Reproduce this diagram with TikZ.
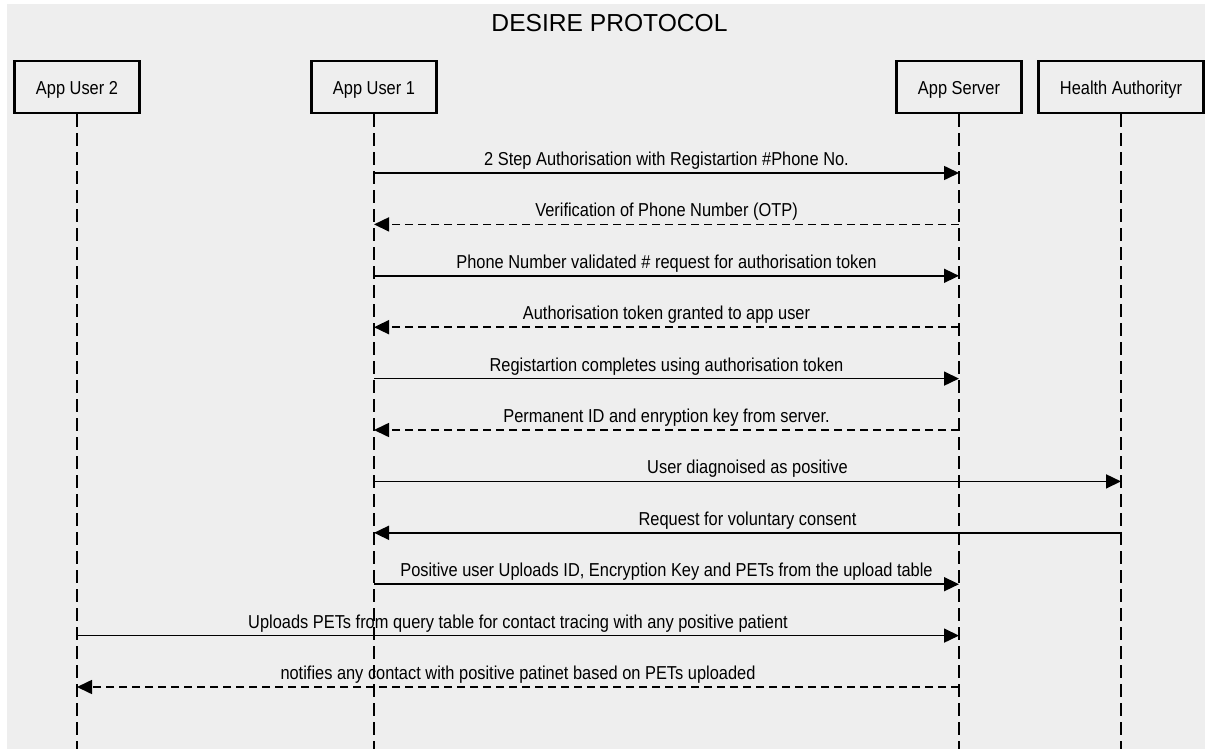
\documentclass[tikz,border=0pt]{standalone}
\usepackage{fontspec}
\setmainfont{Liberation Sans}
\newfontfamily\narrowsans{Liberation Sans}[FakeStretch=0.877]
\usetikzlibrary{arrows.meta}
\definecolor{canvas}{HTML}{EEEEEE}
\newcommand\msgfont{\narrowsans\fontsize{18.7}{21}\selectfont}
\tikzset{
  actor/.style={draw=black, line width=2.5pt, fill=canvas, minimum width=125pt,
    minimum height=52pt, inner sep=0pt, text height=16pt, text depth=0pt, font=\msgfont},
  lifeline/.style={draw=black, line width=2pt, dash pattern=on 13pt off 6pt},
  call/.style={draw=black, line width=1.6pt, -{Triangle[length=15pt,width=14pt]}},
  reply/.style={call, dash pattern=on 8pt off 5pt},
  lbl/.style={midway, anchor=base, yshift=7.5pt, inner sep=0pt, font=\msgfont},
}
\begin{document}
\begin{tikzpicture}[x=1pt, y=-1pt]
  % page and canvas
  \useasboundingbox (0,0) rectangle (1205,749);
  \fill[canvas] (7,4) rectangle (1205,748.5);

  \node[anchor=base, font=\fontsize{24.6}{28}\selectfont] (title) at (609.5,31.5) {DESIRE PROTOCOL};

  % participants
  \node[actor] (u2)  at (77,87)   {App User 2};
  \node[actor] (u1)  at (374,87)  {App User 1};
  \node[actor] (srv) at (959,87)  {App Server};
  \node[actor, minimum width=165pt] (ha) at (1121,87) {Health Authorityr};

  % lifeline ends
  \coordinate (u2end)  at (77,749);
  \coordinate (u1end)  at (374,749);
  \coordinate (srvend) at (959,749);
  \coordinate (haend)  at (1121,749);
  \draw[lifeline] (u2.south)  -- (u2end);
  \draw[lifeline] (u1.south)  -- (u1end);
  \draw[lifeline] (srv.south) -- (srvend);
  \draw[lifeline] (ha.south)  -- (haend);

  % message rows
  \coordinate (r1)  at (0,173);
  \coordinate (r2)  at (0,224.4);
  \coordinate (r3)  at (0,275.8);
  \coordinate (r4)  at (0,327.2);
  \coordinate (r5)  at (0,378.6);
  \coordinate (r6)  at (0,430);
  \coordinate (r7)  at (0,481.4);
  \coordinate (r8)  at (0,532.8);
  \coordinate (r9)  at (0,584.2);
  \coordinate (r10) at (0,635.6);
  \coordinate (r11) at (0,687);

  % messages
  \draw[call]  (u1 |- r1) -- node[lbl] {2 Step Authorisation with Registartion \#Phone No.} (srv |- r1);
  \draw[reply] (srv |- r2) -- node[lbl] {Verification of Phone Number (OTP)} (u1 |- r2);
  \draw[call]  (u1 |- r3) -- node[lbl] {Phone Number validated \# request for authorisation token} (srv |- r3);
  \draw[reply] (srv |- r4) -- node[lbl] {Authorisation token granted to app user} (u1 |- r4);
  \draw[call]  (u1 |- r5) -- node[lbl] {Registartion completes using authorisation token} (srv |- r5);
  \draw[reply] (srv |- r6) -- node[lbl] {Permanent ID and enryption key from server.} (u1 |- r6);
  \draw[call]  (u1 |- r7) -- node[lbl] {User diagnoised as positive} (ha |- r7);
  \draw[call]  (ha |- r8) -- node[lbl] {Request for voluntary consent} (u1 |- r8);
  \draw[call]  (u1 |- r9) -- node[lbl] {Positive user Uploads ID, Encryption Key and PETs from the upload table} (srv |- r9);
  \draw[call]  (u2 |- r10) -- node[lbl] {Uploads PETs from query table for contact tracing with any positive patient} (srv |- r10);
  \draw[reply] (srv |- r11) -- node[lbl] {notifies any contact with positive patinet based on PETs uploaded} (u2 |- r11);
\end{tikzpicture}
\end{document}
